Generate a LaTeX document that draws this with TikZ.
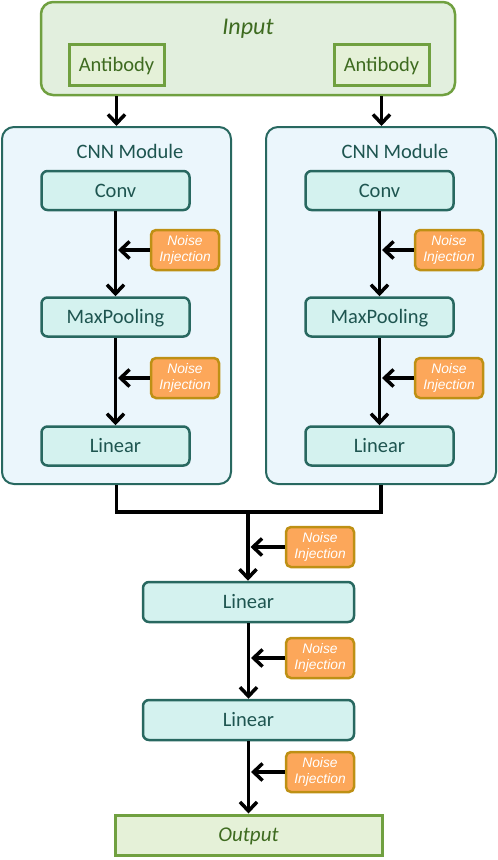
\documentclass[tikz,border=0pt]{standalone}
\usepackage{fontspec}
\setmainfont{Carlito}
\newfontfamily\noisefont{Liberation Sans}
\usetikzlibrary{arrows.meta,calc}
\definecolor{ingreenfill}{RGB}{226,239,222}
\definecolor{ingreen}{RGB}{112,160,64}
\definecolor{ingreentext}{RGB}{62,107,32}
\definecolor{abfill}{RGB}{229,241,216}
\definecolor{cnnfill}{RGB}{235,246,252}
\definecolor{teal}{RGB}{40,104,96}
\definecolor{tealtext}{RGB}{30,85,80}
\definecolor{layerfill}{RGB}{212,242,239}
\definecolor{noisefill}{RGB}{252,167,90}
\definecolor{noisedraw}{RGB}{190,144,20}
\tikzset{
  inbox/.style={draw=ingreen, fill=ingreenfill, line width=2.5pt, rounded corners=12pt},
  abbox/.style={draw=ingreen, fill=abfill, line width=3pt, minimum width=95pt, minimum height=41pt, text=ingreentext, text height=13pt, text depth=0pt, font=\fontsize{20.5}{24}\selectfont},
  cnnbox/.style={draw=teal, fill=cnnfill, line width=2pt, rounded corners=12pt, minimum height=357pt},
  layer/.style={draw=teal, fill=layerfill, line width=2.5pt, rounded corners=6pt, minimum height=39pt, text=tealtext, text height=13pt, text depth=0pt, font=\fontsize{20.5}{24}\selectfont},
  noise/.style={draw=noisedraw, fill=noisefill, line width=2.5pt, rounded corners=5pt, minimum width=68pt, minimum height=40pt, text=white, align=center, inner sep=0pt, font=\noisefont\itshape\fontsize{13.8}{16}\selectfont},
  arr/.style={line width=3.5pt, -{Straight Barb[length=9pt,width=17pt,line width=3.5pt]}},
  ln/.style={line width=3.5pt},
  lbl/.style={text=tealtext, anchor=base, font=\fontsize{20.5}{24}\selectfont},
}
\begin{document}
\begin{tikzpicture}[x=1pt,y=-1pt]
\useasboundingbox (0,0) rectangle (498,860);
% Input
\node[inbox, minimum width=414pt, minimum height=93pt] (inp) at (248,48.5) {};
\node[text=ingreentext, anchor=base, font=\itshape\fontsize{24}{28}\selectfont] (inlbl) at (248,34) {Input};
\node[abbox] (ab1) at (116.5,64.5) {Antibody};
\node[abbox] (ab2) at (381.5,64.5) {Antibody};
% CNN modules
\node[cnnbox, minimum width=229pt] (cnn1) at (116.5,305.5) {};
\node[cnnbox, minimum width=230pt] (cnn2) at (381,305.5) {};
\node[lbl] (cl1) at (130,158) {CNN Module};
\node[lbl] (cl2) at (395,158) {CNN Module};
% left column
\node[layer, minimum width=148pt] (conv1) at (115.5,190.5) {Conv};
\node[layer, minimum width=148pt] (mp1) at (115.5,317) {MaxPooling};
\node[layer, minimum width=148pt] (lin1) at (115.5,446) {Linear};
\node[noise] (n1) at (185,250) {Noise\\Injection};
\node[noise] (n2) at (185,378) {Noise\\Injection};
% right column
\node[layer, minimum width=148pt] (conv2) at (379.5,190.5) {Conv};
\node[layer, minimum width=148pt] (mp2) at (379.5,317) {MaxPooling};
\node[layer, minimum width=148pt] (lin2) at (379.5,446) {Linear};
\node[noise] (n3) at (449,250) {Noise\\Injection};
\node[noise] (n4) at (449,378) {Noise\\Injection};
% lower part
\coordinate (merge) at (248,512);
\node[layer, minimum width=211pt, minimum height=40pt] (fc1) at (248.5,602) {Linear};
\node[layer, minimum width=211pt, minimum height=40pt] (fc2) at (248.5,720) {Linear};
\node[noise] (n5) at (320,547) {Noise\\Injection};
\node[noise] (n6) at (320,658) {Noise\\Injection};
\node[noise] (n7) at (320,772) {Noise\\Injection};
\node[draw=ingreen, fill=abfill, line width=3pt, minimum width=267pt, minimum height=40pt, text=ingreentext, text height=13.5pt, text depth=0pt, font=\itshape\fontsize{21}{25}\selectfont] (out) at (248.5,835) {Output};
% arrows from input
\draw[arr] (ab1 |- inp.south) -- (ab1 |- cnn1.north);
\draw[arr] (ab2 |- inp.south) -- (ab2 |- cnn2.north);
% column arrows
\draw[arr] (conv1) -- (mp1);
\draw[arr] (mp1) -- (lin1);
\draw[arr] (conv2) -- (mp2);
\draw[arr] (mp2) -- (lin2);
\draw[arr] (n1.west) -- ($(conv1.south |- n1.west)+(2.5,0)$);
\draw[arr] (n2.west) -- ($(mp1.south |- n2.west)+(2.5,0)$);
\draw[arr] (n3.west) -- ($(conv2.south |- n3.west)+(2.5,0)$);
\draw[arr] (n4.west) -- ($(mp2.south |- n4.west)+(2.5,0)$);
% merge
\draw[ln] (cnn1.south) -- (cnn1.south |- merge) -- (cnn2.south |- merge) -- (cnn2.south);
\draw[arr] (merge) -- (merge |- fc1.north);
\draw[arr] (fc1.south) -- (fc2.north);
\draw[arr] (fc2.south) -- (out.north);
\draw[arr] (n5.west) -- ($(merge |- n5.west)+(2.5,0)$);
\draw[arr] (n6.west) -- ($(fc1.south |- n6.west)+(2.5,0)$);
\draw[arr] (n7.west) -- ($(fc2.south |- n7.west)+(2.5,0)$);
\end{tikzpicture}
\end{document}
